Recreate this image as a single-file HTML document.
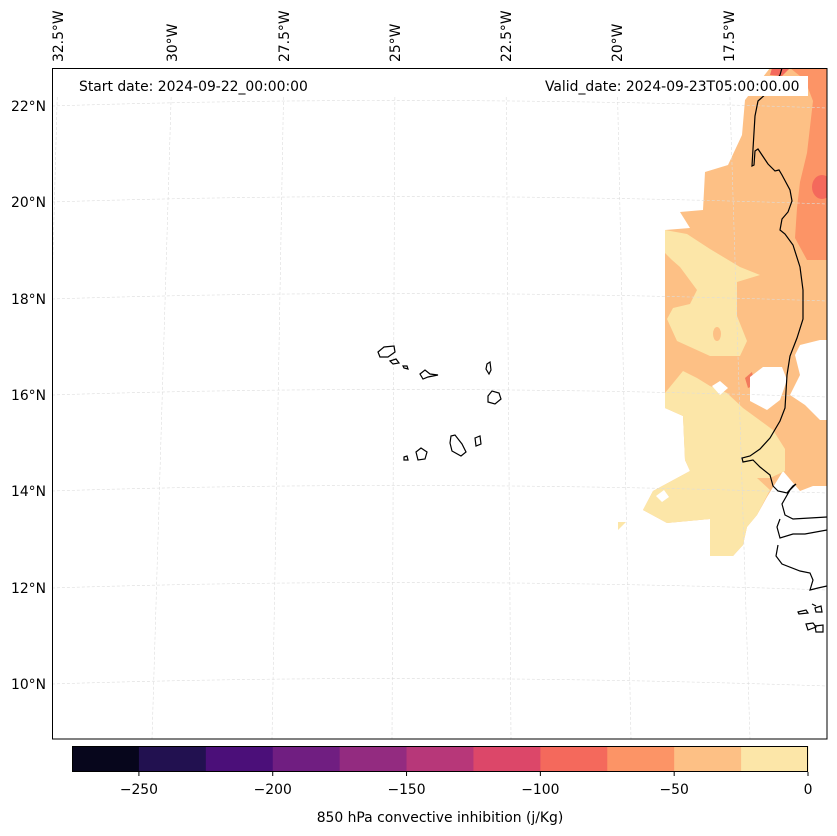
<!DOCTYPE html>
<html><head><meta charset="utf-8"><style>
html,body{margin:0;padding:0;background:#fff;}
svg{display:block;font-family:"DejaVu Sans","Liberation Sans",sans-serif;}
</style></head><body>
<svg id="chart" width="837" height="836" viewBox="0 0 837 836" xmlns="http://www.w3.org/2000/svg">
<defs><clipPath id="mapclip"><rect x="52" y="68" width="775" height="671"/></clipPath></defs>
<g clip-path="url(#mapclip)">
 <g>
  <path fill="#fdc085" d="M770,68 L827,68 L827,340 L820,340 L800,345 L795,355 L800,375 L790,395 L805,405 L820,420 L827,420 L827,486 L813,486 L800,491 L783,471 L767,497 L757,515 L747,527 L743,545 L733,556 L710,556 L710,519 L667,523 L643,510 L653,491 L690,471 L685,460 L683,416 L665,408 L665,230 L665,230 L690,228 L680,212 L703,210 L705,172 L728,165 L742,135 L745,100 Z"/>
  <path fill="#fc9466" d="M790,68 L827,68 L827,260 L807,260 L795,238 L797,208 L800,182 L807,153 L813,101 L805,80 Z"/>
  <path fill="#f4695c" d="M772,68 L790,68 L782,76 L770,75 Z"/>
  <ellipse fill="#f4695c" cx="822" cy="187" rx="10" ry="12"/>
  <path fill="#f27a5c" d="M745,378 L752,372 L755,385 L748,388 Z"/>
  <path fill="#fce6a8" d="M665,230 L687,234 L710,249 L740,267 L760,275 L737,282 L737,316 L747,341 L740,356 L710,356 L677,341 L667,319 L673,308 L690,304 L697,290 L680,267 L672,260 L665,253 Z"/>
  <ellipse fill="#fdc085" cx="717" cy="334" rx="4" ry="7"/>
  <path fill="#fce6a8" d="M665,393 L683,371 L697,378 L710,386 L727,393 L743,408 L773,430 L785,449 L785,471 L770,478 L757,478 L770,490 L757,515 L747,527 L743,545 L733,556 L710,556 L710,519 L667,523 L643,510 L653,491 L690,471 L685,460 L683,416 L665,408 Z"/>
  <path fill="#fce6a8" d="M618,522 L626,522 L618,530 Z"/>
  <path fill="#fff" d="M750,377 L763,367 L782,367 L787,380 L780,400 L767,410 L750,401 Z"/>
  <path fill="#fff" d="M712,386 L720,381 L728,388 L720,395 Z"/>
  <path fill="#fff" d="M656,496 L664,490 L669,497 L662,502 Z"/>
 </g>
 <g fill="none" stroke="#dcdcdc" stroke-width="0.6" stroke-dasharray="3,2" id="grid"></g>
 <g fill="none" stroke="#000" stroke-width="1.2">
  <polyline points="782,68 780,75 767,93 758,101 755,116 753,149 752,166 754,165 755,151 758,149 768,164 775,171 779,170 782,175 790,190 792,201 788,212 782,219 780,230 785,234 793,245 800,267 803,290 803,319 797,338 790,356 787,375 785,408 780,421 770,438 760,449 750,456 742,458 743,462 753,460 760,467 770,475 773,486 778,491 787,493 793,486 796,484 790,490 782,504 785,515 793,519 827,517"/>
  <polyline points="780,519 777,527 780,538 793,534 805,534 827,530"/>
  <polyline points="778,545 776,556 782,564 800,571 810,573 813,580 810,590 818,588 827,586"/>
  <path d="M798,612 l8,-2 l2,3 l-9,1 Z M815,608 l6,-2 l1,6 l-6,0 Z M806,624 l7,-1 l3,4 l-8,3 Z M815,626 l8,-1 l0,7 l-7,0 Z M812,604 l4,2"/>
  <path d="M378,352 L384,347 L394,346 L395,352 L388,357 L380,357 Z"/>
  <path d="M390,361 L396,359 L399,363 L393,364 Z"/>
  <path d="M403,366 L407,366 L408,369 L404,368 Z"/>
  <path d="M420,374 L425,370 L430,374 L438,375 L428,377 L423,379 Z"/>
  <path d="M487,364 L490,362 L491,370 L489,374 L486,369 Z"/>
  <path d="M488,396 L492,391 L499,393 L501,399 L495,404 L488,402 Z"/>
  <path d="M475,438 L480,436 L481,444 L476,446 Z"/>
  <path d="M451,436 L455,435 L462,444 L466,452 L461,456 L452,451 L450,443 Z"/>
  <path d="M416,452 L421,448 L427,452 L425,459 L418,460 Z"/>
  <path d="M404,457 L407,456 L408,460 L404,460 Z"/>
 </g>
 <rect x="72" y="76" width="244" height="20" fill="#fff"/>
 <text x="79" y="91" font-size="13.9" fill="#000">Start date: 2024-09-22_00:00:00</text>
 <rect x="538" y="76" width="270" height="20" fill="#fff"/>
 <text x="545" y="91" font-size="13.9" fill="#000">Valid_date: 2024-09-23T05:00:00.00</text>
</g>
<rect x="52.5" y="68.5" width="774.5" height="670.5" fill="none" stroke="#000" stroke-width="1"/>
<g id="latlabels" font-size="13.9" fill="#000"></g>
<g id="lonlabels" font-size="13.9" fill="#000"></g>
<g id="cbar"></g>
<text x="440" y="822" font-size="13.9" text-anchor="middle" fill="#000">850 hPa convective inhibition (j/Kg)</text>
</svg>
<script>
const latValues = [22, 20, 18, 16, 14, 12, 10];
const latLabelY = [106, 202, 299, 395, 491, 588, 684];
const lonValues = [32.5, 30, 27.5, 25, 22.5, 20, 17.5];
const lonTopX = [58, 172, 284, 395, 506, 617, 729];
const lonBotX = [40, 152, 272, 392, 511, 631, 750];
const cbarLevels = [-275, -250, -225, -200, -175, -150, -125, -100, -75, -50, -25, 0];
const cbarColors = ["#07061c","#221150","#4b0f79","#701e81","#932b80","#b73779","#dc4769","#f4695c","#fc9466","#fdc085","#fce6a8"];
const cbarTicks = [-250, -200, -150, -100, -50, 0];
const NS = "http://www.w3.org/2000/svg";
const grid = document.getElementById('grid');
latLabelY.forEach((y, i) => {
  const p = document.createElementNS(NS, 'path');
  p.setAttribute('d', `M52,${y} Q420,${y-12} 827,${y+2}`);
  
  
  grid.appendChild(p);
  const t = document.createElementNS(NS, 'text');
  t.setAttribute('x', 46); t.setAttribute('y', y + 5);
  t.setAttribute('text-anchor', 'end');
  t.textContent = latValues[i] + '°N';
  
  
  document.getElementById('latlabels').appendChild(t);
});
lonValues.forEach((v, i) => {
  const l = document.createElementNS(NS, 'line');
  const xt = lonTopX[i] + (lonBotX[i] - lonTopX[i]) * (29 / 671);
  l.setAttribute('x1', xt); l.setAttribute('y1', 97);
  l.setAttribute('x2', lonBotX[i]); l.setAttribute('y2', 739);
  
  
  grid.appendChild(l);
  const t = document.createElementNS(NS, 'text');
  const x = lonTopX[i] + 5;
  t.setAttribute('transform', `translate(${x},62) rotate(-90)`);
  t.textContent = v + '°W';
  
  
  document.getElementById('lonlabels').appendChild(t);
});
const cb = document.getElementById('cbar');
const cx0 = 72, cx1 = 808, cy = 746, ch = 26;
const xs = v => cx0 + (v - cbarLevels[0]) / (cbarLevels[cbarLevels.length-1] - cbarLevels[0]) * (cx1 - cx0);
cbarColors.forEach((c, i) => {
  const r = document.createElementNS(NS, 'rect');
  r.setAttribute('x', xs(cbarLevels[i])); r.setAttribute('y', cy);
  r.setAttribute('width', xs(cbarLevels[i+1]) - xs(cbarLevels[i]) + 0.5);
  r.setAttribute('height', ch); r.setAttribute('fill', c);
  
  
  cb.appendChild(r);
});
const fr = document.createElementNS(NS, 'rect');
fr.setAttribute('x', cx0 + 0.5); fr.setAttribute('y', cy + 0.5);
fr.setAttribute('width', cx1 - cx0 - 1); fr.setAttribute('height', ch - 1);
fr.setAttribute('fill', 'none'); fr.setAttribute('stroke', '#000');


cb.appendChild(fr);
cbarTicks.forEach(v => {
  const x = xs(v);
  const l = document.createElementNS(NS, 'line');
  l.setAttribute('x1', x); l.setAttribute('x2', x);
  l.setAttribute('y1', cy + ch); l.setAttribute('y2', cy + ch + 4);
  l.setAttribute('stroke', '#000');
  
  
  cb.appendChild(l);
  const t = document.createElementNS(NS, 'text');
  t.setAttribute('x', x); t.setAttribute('y', 794);
  t.setAttribute('text-anchor', 'middle'); t.setAttribute('font-size', '13.9');
  t.textContent = v < 0 ? '\u2212' + Math.abs(v) : String(v);
  
  
  cb.appendChild(t);
});
</script>
</body></html>
